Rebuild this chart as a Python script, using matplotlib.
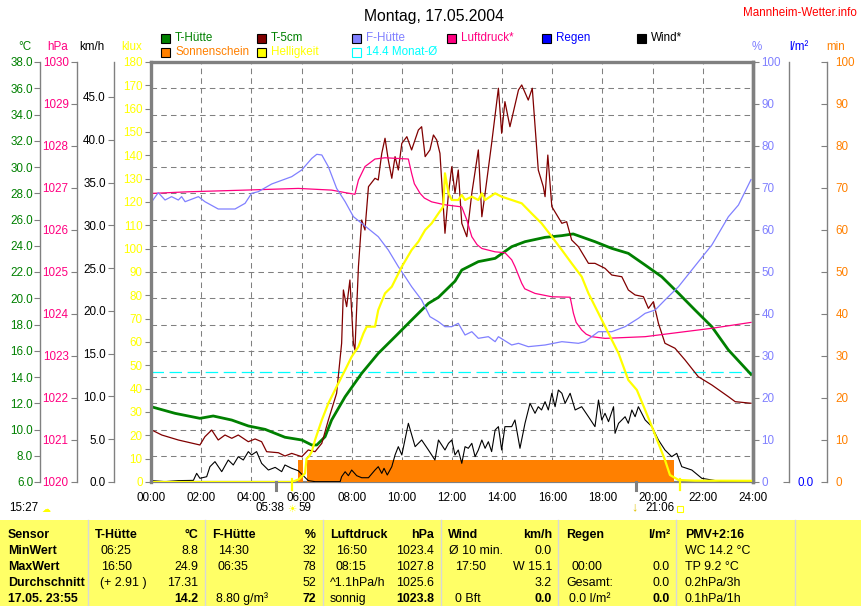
import matplotlib
matplotlib.use('Agg')
import matplotlib.pyplot as plt
from matplotlib.patches import Rectangle

plt.rcParams['font.family'] = ['Liberation Sans', 'DejaVu Sans']
plt.rcParams['lines.scale_dashes'] = False

# Messwerte vom 17.05.2004 (Stunden seit 00:00)
t_huette_h = [0.0, 0.96, 1.95, 2.48, 3.22, 3.88, 4.55, 5.34, 6.01, 6.41, 6.61, 6.94, 7.2, 7.74, 8.4,
              9.06, 9.73, 10.39, 11.06, 11.46, 12.12, 12.39, 13.05, 13.72, 14.38, 14.91, 15.71, 16.38,
              16.83, 17.7, 18.37, 19.03, 19.7, 20.36, 21.03, 21.69, 22.36, 23.02, 23.92]
t_huette_c = [11.74, 11.23, 10.85, 11.03, 10.72, 10.27, 10.01, 9.41, 9.2, 8.82, 8.82, 9.45, 10.72, 12.5,
              14.28, 15.8, 17.07, 18.34, 19.61, 20.07, 21.3, 22.15, 22.79, 23.04, 23.93, 24.31, 24.64,
              24.77, 24.9, 24.31, 23.8, 23.42, 22.53, 21.64, 20.38, 19.1, 17.83, 16.06, 14.2]

t5_h = [0.03, 0.43, 1.09, 1.95, 2.15, 2.42, 2.68, 2.95, 3.22, 3.48, 3.88, 4.15, 4.41, 4.61, 5.08, 5.34,
        5.61, 6.01, 6.27, 6.54, 6.81, 7.07, 7.4, 7.6, 7.67, 7.8, 7.93, 8.07, 8.13, 8.27, 8.4, 8.53, 8.67,
        8.93, 9.06, 9.2, 9.33, 9.46, 9.6, 9.73, 9.86, 10.0, 10.2, 10.39, 10.66, 10.79, 10.93, 11.12, 11.26,
        11.39, 11.52, 11.72, 11.86, 11.99, 12.12, 12.25, 12.39, 12.59, 12.79, 13.05, 13.19, 13.32, 13.58,
        13.85, 13.98, 14.11, 14.31, 14.65, 14.78, 15.04, 15.2, 15.44, 15.64, 15.71, 15.82, 15.98, 16.38,
        16.57, 16.77, 17.04, 17.44, 17.7, 18.1, 18.37, 18.77, 19.03, 19.3, 19.63, 19.83, 20.03, 20.23,
        20.49, 20.89, 21.29, 21.82, 22.36, 23.02, 23.29, 23.92]
t5_c = [9.96, 9.58, 9.2, 8.82, 9.45, 9.96, 9.2, 9.58, 9.33, 9.58, 9.07, 9.28, 9.07, 8.31, 8.23, 7.98,
        8.18, 7.93, 8.44, 8.31, 8.95, 10.72, 12.76, 16.57, 20.63, 19.36, 21.39, 16.57, 16.06, 22.41, 25.96,
        25.2, 28.5, 29.14, 29.01, 31.04, 32.19, 30.53, 29.14, 30.79, 29.77, 31.8, 32.31, 31.3, 32.82, 33.07,
        30.79, 31.3, 32.44, 32.06, 31.04, 24.95, 28.0, 30.02, 28.0, 29.77, 25.71, 24.69, 28.0, 31.3, 26.21,
        28.0, 31.8, 36.0, 32.57, 34.98, 33.07, 35.87, 36.25, 35.1, 36.0, 29.77, 28.5, 27.74, 30.91, 26.98,
        25.71, 25.83, 24.44, 23.93, 22.66, 22.66, 22.28, 21.77, 21.64, 20.63, 20.25, 20.12, 19.23, 19.74,
        18.09, 16.57, 16.19, 15.3, 14.02, 13.39, 12.5, 12.12, 12.0]

druck_h = [0.0, 1.49, 3.75, 5.87, 7.2, 7.74, 8.13, 8.27, 8.53, 8.93, 9.33, 10.26, 10.39, 10.5, 10.73,
           10.9, 11.19, 11.72, 12.39, 12.59, 12.79, 13.0, 13.19, 13.72, 14.11, 14.38, 14.51, 14.78, 14.9,
           15.31, 15.98, 16.71, 16.84, 16.95, 17.17, 17.35, 17.57, 18.1, 19.7, 21.03, 22.36, 23.92]
druck_hpa = [1026.87, 1026.91, 1026.95, 1026.99, 1026.95, 1026.89, 1026.85, 1027.19, 1027.51, 1027.69,
             1027.72, 1027.69, 1027.35, 1027.1, 1026.87, 1026.76, 1026.67, 1026.6, 1026.55, 1026.24,
             1025.84, 1025.65, 1025.56, 1025.48, 1025.46, 1025.29, 1025.13, 1024.73, 1024.6, 1024.49,
             1024.41, 1024.4, 1024.02, 1023.8, 1023.62, 1023.52, 1023.46, 1023.42, 1023.46, 1023.56,
             1023.66, 1023.8]

feuchte_h = [0.03, 0.29, 0.56, 0.82, 1.09, 1.22, 1.36, 1.89, 2.15, 2.68, 3.35, 3.75, 4.01, 4.28, 4.81,
             5.61, 6.01, 6.41, 6.61, 6.81, 7.07, 7.4, 7.74, 8.07, 8.4, 9.06, 9.46, 9.86, 10.13, 10.39,
             10.79, 11.12, 11.46, 11.72, 11.99, 12.25, 12.52, 12.79, 13.05, 13.45, 13.72, 13.85, 14.38,
             14.65, 15.04, 15.71, 16.38, 17.04, 17.3, 17.84, 18.37, 18.9, 19.43, 19.7, 20.1, 20.49, 21.03,
             21.56, 22.09, 22.36, 23.02, 23.42, 23.92]
feuchte_pct = [66.74, 68.89, 67.14, 67.94, 67.14, 67.94, 66.74, 67.94, 66.74, 65.0, 65.0, 66.35, 68.73,
               69.13, 70.95, 72.7, 74.29, 77.06, 78.02, 77.86, 75.08, 69.92, 66.74, 63.17, 61.59, 58.41,
               55.24, 51.27, 48.89, 46.51, 43.33, 39.37, 38.17, 36.98, 36.98, 37.78, 35.0, 35.79, 34.21,
               34.6, 33.41, 34.6, 32.62, 33.02, 32.22, 32.62, 33.41, 33.02, 33.41, 35.79, 35.79, 36.98,
               38.97, 40.16, 40.95, 43.33, 46.51, 50.48, 54.44, 56.43, 63.17, 65.95, 72.0]

hell_h = [0.0, 5.63, 5.9, 6.14, 6.2, 6.3, 6.41, 6.54, 6.81, 7.07, 7.4, 7.74, 8.0, 8.27, 8.47, 8.6, 8.93,
          9.06, 9.33, 9.6, 10.0, 10.39, 10.66, 10.93, 11.19, 11.46, 11.65, 11.72, 11.86, 11.99, 12.25,
          12.39, 12.52, 12.79, 13.05, 13.19, 13.32, 13.72, 13.98, 14.38, 14.78, 15.17, 15.57, 15.98,
          16.38, 16.77, 17.17, 17.44, 17.84, 18.24, 18.64, 19.03, 19.37, 19.7, 19.97, 20.23, 20.49,
          20.69, 21.03, 21.69, 23.92]
hell_klux = [0, 0, 1.2, 3.7, 10, 11, 13, 18, 26.57, 33.71, 40.86, 48, 53.71, 58, 63.71, 66.57, 66.57,
             73.71, 80.86, 83.71, 92.29, 99.43, 103, 108, 110.86, 115.14, 118, 132.29, 123.71, 120.86,
             120.86, 123, 120.86, 122.29, 120.86, 123.71, 120.86, 123.71, 122.29, 120.86, 119.43, 115.14,
             110.86, 105.14, 99.43, 93.71, 88, 80.86, 72.29, 63.71, 55.14, 43.71, 39.43, 30.86, 23.71,
             16.57, 9.43, 3.0, 0.86, 0.57, 0.5]

wind_h = [0.03, 0.56, 1.09, 1.69, 1.82, 1.95, 2.22, 2.35, 2.55, 2.82, 3.08, 3.28, 3.48, 3.68, 3.88, 4.01,
          4.21, 4.41, 4.68, 4.95, 5.21, 5.34, 5.61, 5.87, 6.27, 6.54, 7.54, 7.6, 7.74, 7.87, 8.0, 8.2, 8.4,
          8.67, 8.93, 9.06, 9.2, 9.29, 9.42, 9.6, 9.73, 9.86, 10.0, 10.26, 10.53, 10.79, 11.06, 11.32,
          11.46, 11.72, 11.86, 11.99, 12.12, 12.25, 12.39, 12.52, 12.65, 12.79, 12.92, 13.05, 13.19,
          13.32, 13.45, 13.58, 13.72, 13.85, 13.98, 14.11, 14.38, 14.51, 14.71, 14.91, 15.11, 15.31,
          15.44, 15.57, 15.71, 15.84, 15.98, 16.11, 16.24, 16.38, 16.51, 16.71, 16.91, 17.17, 17.44,
          17.7, 17.84, 17.97, 18.1, 18.24, 18.44, 18.5, 18.64, 18.9, 19.03, 19.17, 19.3, 19.43, 19.7,
          19.97, 20.23, 20.49, 20.76, 20.96, 21.16, 21.56, 21.96, 22.36, 22.76, 23.92]
wind_kmh = [0.16, 0.04, 0.16, 0.19, 1.01, 0.43, 0.62, 1.79, 2.38, 1.21, 2.57, 1.99, 2.96, 2.57, 3.55,
            3.16, 3.55, 2.18, 1.4, 1.71, 1.21, 1.99, 1.6, 1.32, 0.16, 0.04, 0.04, 0.62, 1.2, 0.74, 1.4,
            0.74, 0.5, 0.5, 1.4, 1.79, 1.01, 1.6, 0.82, 1.79, 3.16, 4.13, 3.16, 6.86, 4.13, 4.91, 3.74,
            2.57, 4.91, 3.74, 4.52, 4.91, 3.16, 3.74, 2.18, 4.13, 3.94, 4.52, 2.96, 3.74, 4.91, 3.94,
            4.71, 3.55, 6.08, 6.47, 3.74, 6.47, 6.47, 7.25, 3.94, 6.86, 9.2, 8.03, 8.8, 8.42, 9.39, 8.42,
            10.37, 8.8, 10.75, 10.37, 9.2, 10.37, 8.42, 8.8, 7.63, 6.47, 9.58, 7.25, 8.03, 7.05, 8.8,
            5.69, 6.86, 7.63, 6.86, 8.42, 7.63, 8.8, 7.25, 6.47, 4.91, 3.74, 2.96, 3.35, 1.79, 1.4, 0.43,
            0.23, 0.04, 0.04]

sonne_start = [5.87, 6.2]
sonne_ende = [6.05, 20.87]
sonne_min = [5.2, 5.2]

monat_mittel = 14.4
sonnenaufgang = 5.63
sonnenuntergang = 21.1
marken_h = [5.0, 19.33]

zeit_ticks = list(range(0, 25, 2))
zeit_labels = ['%02d:00' % h for h in zeit_ticks]

W, H = 862, 606
GRAU = '#808080'
GRUEN = '#008000'
DUNKELROT = '#800000'
PINK = '#FF0080'
LILA = '#8080FF'
GELB = '#FFFF00'
ORANGE = '#FF8000'
BLAU = '#0000FF'
CYAN = '#00FFFF'
FS = 8.4
FT = 8.9


def fx(x):
    return x / W


def fy(y):
    return 1 - y / H


def pt(px):
    return px * 72.0 / 100


fig = plt.figure(figsize=(W / 100, H / 100), dpi=100)
ax = fig.add_axes([fx(151), fy(482), (753 - 151) / W, (482 - 62) / H])

# Host-Achse: Temperatur
ax.set_xlim(0, 24)
ax.set_ylim(6, 38)
ax.set_xticks(zeit_ticks)
ax.set_xticklabels(zeit_labels)
ax.set_yticks(range(6, 39, 2))
ax.set_yticklabels(['%.1f' % v for v in range(6, 39, 2)])
ax.grid(True, color=GRAU, linestyle=(0, (4, 3)), linewidth=0.75)
ax.tick_params(axis='x', length=0, pad=7, labelsize=FS)
ax.tick_params(axis='y', direction='out', length=4, color=GRAU, labelcolor=GRUEN, labelsize=FS, pad=1)
ax.spines['left'].set_position(('outward', pt(111)))
ax.spines['left'].set_color(GRAU)
ax.spines['left'].set_linewidth(1.0)
ax.spines['top'].set_color(GRAU)
ax.spines['top'].set_linewidth(2.4)
ax.spines['right'].set_color(GRAU)
ax.spines['right'].set_linewidth(2.4)
ax.spines['bottom'].set_color(GRAU)
ax.spines['bottom'].set_linewidth(1.6)

ax.axhline(monat_mittel, color=CYAN, linewidth=0.9, dashes=(9, 4))
ax.plot(t_huette_h, t_huette_c, color=GRUEN, linewidth=2.0)
ax.plot(t5_h, t5_c, color=DUNKELROT, linewidth=0.9)


def neue_achse(seite, abstand, ylim, ticks, fmt, farbe, richtung, lw=1.0):
    a = ax.twinx()
    a.set_ylim(*ylim)
    for s in a.spines.values():
        s.set_visible(False)
    sp = a.spines[seite]
    sp.set_visible(True)
    sp.set_position(('outward', pt(abstand)))
    sp.set_color(GRAU)
    sp.set_linewidth(lw)
    if seite == 'left':
        a.yaxis.tick_left()
    else:
        a.yaxis.tick_right()
    a.set_yticks(ticks)
    a.set_yticklabels([fmt % v for v in ticks])
    a.tick_params(axis='y', direction=richtung, length=4, color=GRAU, labelcolor=farbe,
                  labelsize=FS, pad=2 if richtung == 'out' else 6)
    return a


ax_min = neue_achse('right', 74, (0, 100), list(range(0, 101, 10)), '%d', ORANGE, 'in')
ax_min.bar(sonne_start, sonne_min, width=[e - s for s, e in zip(sonne_start, sonne_ende)],
           align='edge', color=ORANGE, linewidth=0)

ax_hpa = neue_achse('left', 74, (1020, 1030), list(range(1020, 1031)), '%d', PINK, 'out')
ax_hpa.plot(druck_h, druck_hpa, color=PINK, linewidth=0.9)

ax_pct = neue_achse('right', 0, (0, 100), list(range(0, 101, 10)), '%d', LILA, 'out', lw=2.4)
ax_pct.plot(feuchte_h, feuchte_pct, color=LILA, linewidth=0.9)

ax_kmh = neue_achse('left', 37, (0, 49.09), [0, 5, 10, 15, 20, 25, 30, 35, 40, 45], '%.1f', 'black', 'out')
ax_kmh.plot(wind_h, wind_kmh, color='black', linewidth=0.8)

ax_klux = neue_achse('left', 0, (0, 180), list(range(0, 181, 10)), '%d', GELB, 'out', lw=2.4)
ax_klux.plot(hell_h, hell_klux, color=GELB, linewidth=1.6)
for t in (sonnenaufgang, sonnenuntergang):
    ax_klux.axvline(t, ymin=-0.02, ymax=0.006, color=GELB, linewidth=1.6, clip_on=False)
for t in marken_h:
    ax_klux.axvline(t, ymin=-0.019, ymax=0, color=GRAU, linewidth=2.2, clip_on=False)

ax_reg = neue_achse('right', 36, (0, 10), [0], '%.1f', BLAU, 'in')

# Achsenbeschriftungen oben
for x, txt, c in [(25, '°C', GRUEN), (58, 'hPa', PINK), (92, 'km/h', 'black'), (132, 'klux', GELB),
                  (757, '%', LILA), (799, 'l/m²', BLAU), (836, 'min', ORANGE)]:
    fig.text(fx(x), fy(47), txt, color=c, fontsize=FS, ha='center', va='center')

fig.text(fx(434), fy(16), 'Montag, 17.05.2004', fontsize=11.3, ha='center', va='center')
fig.text(fx(857), fy(13), 'Mannheim-Wetter.info', fontsize=FS, color='#FF0000', ha='right', va='center')

# Legende
legende = [(161, 38, GRUEN, 'T-Hütte', GRUEN), (257, 38, DUNKELROT, 'T-5cm', GRUEN),
           (352, 38, LILA, 'F-Hütte', LILA), (447, 38, PINK, 'Luftdruck*', PINK),
           (542, 38, BLAU, 'Regen', BLAU), (637, 38, 'black', 'Wind*', 'black'),
           (161, 52, ORANGE, 'Sonnenschein', ORANGE), (257, 52, GELB, 'Helligkeit', GELB)]
for x, y, fc, txt, tc in legende:
    fig.patches.append(Rectangle((fx(x), fy(y + 5)), 9 / W, 9 / H, transform=fig.transFigure,
                                 facecolor=fc, edgecolor='black', linewidth=0.8))
    fig.text(fx(x + 14), fy(y), txt, color=tc, fontsize=FS, ha='left', va='center')
fig.patches.append(Rectangle((fx(352), fy(57)), 9 / W, 9 / H, transform=fig.transFigure,
                             facecolor='none', edgecolor=CYAN, linewidth=0.8))
fig.text(fx(366), fy(52), '%.1f Monat-Ø' % monat_mittel, color=CYAN, fontsize=FS, ha='left', va='center')

# Sonnenzeiten unter der Zeitachse
fig.text(fx(9), fy(508), '15:27', fontsize=FS, ha='left', va='center')
fig.text(fx(46), fy(510), '☁', fontsize=6.5, color=GELB, ha='center', va='center')
fig.text(fx(285), fy(508), '05:38', fontsize=FS, ha='right', va='center')
fig.text(fx(292), fy(509), '☀', fontsize=7.5, color=GELB, ha='center', va='center')
fig.text(fx(298), fy(508), '59', fontsize=FS, ha='left', va='center')
fig.text(fx(634), fy(507), '↓', fontsize=9, color='#E0C000', fontweight='bold', ha='center', va='center')
fig.text(fx(645), fy(508), '21:06', fontsize=FS, ha='left', va='center')
fig.patches.append(Rectangle((fx(677), fy(512)), 6 / W, 6 / H, transform=fig.transFigure,
                             facecolor='none', edgecolor=GELB, linewidth=0.8))

# Tabelle
fig.patches.append(Rectangle((0, 0), 1, (H - 520) / H, transform=fig.transFigure,
                             facecolor='#FFFF66', edgecolor='none'))
spalten = [88, 205, 323, 441, 558, 676, 795]
for x in spalten:
    fig.add_artist(plt.Line2D([fx(x), fx(x)], [0, fy(520)], transform=fig.transFigure,
                              color='#D8D8D8', linewidth=1.0))

zeilen_y = [535, 551, 567, 583, 599]
kopf = ['Sensor', 'MinWert', 'MaxWert', 'Durchschnitt', '17.05. 23:55']
for y, txt in zip(zeilen_y, kopf):
    fig.text(fx(8), fy(y), txt, fontsize=FT, fontweight='bold', ha='left', va='center')

# (linker Rand, rechter Rand, Zeilen: Text links, Einzug, Text rechts, fett links, fett rechts)
tabelle = [
    (95, 198, [('T-Hütte', 0, '°C', True, True), ('06:25', 6, '8.8', False, False),
               ('16:50', 6, '24.9', False, False), ('(+ 2.91 )', 5, '17.31', False, False),
               ('', 0, '14.2', False, True)]),
    (212, 316, [('F-Hütte', 0, '%', True, True), ('14:30', 6, '32', False, False),
                ('06:35', 6, '78', False, False), ('', 0, '52', False, False),
                ('8.80 g/m³', 4, '72', False, True)]),
    (330, 434, [('Luftdruck', 0, 'hPa', True, True), ('16:50', 6, '1023.4', False, False),
                ('08:15', 6, '1027.8', False, False), ('^1.1hPa/h', 0, '1025.6', False, False),
                ('sonnig', 0, '1023.8', False, True)]),
    (448, 552, [('Wind', 0, 'km/h', True, True), ('Ø 10 min.', 1, '0.0', False, False),
                ('17:50', 7, 'W 15.1', False, False), ('', 0, '3.2', False, False),
                ('0 Bft', 7, '0.0', False, True)]),
    (566, 670, [('Regen', 0, 'l/m²', True, True), ('', 0, '', False, False),
                ('00:00', 6, '0.0', False, False), ('Gesamt:', 0, '0.0', False, False),
                ('0.0 l/m²', 3, '0.0', False, True)]),
]
for xl, xr, reihen in tabelle:
    for i, (links, einzug, rechts, fett_l, fett_r) in enumerate(reihen):
        fig.text(fx(xl + einzug), fy(zeilen_y[i]), links, fontsize=FT,
                 fontweight='bold' if fett_l else 'normal', ha='left', va='center')
        fig.text(fx(xr), fy(zeilen_y[i]), rechts, fontsize=FT,
                 fontweight='bold' if fett_r else 'normal', ha='right', va='center')

pmv = [('PMV+2:16', True), ('WC 14.2 °C', False), ('TP 9.2 °C', False),
       ('0.2hPa/3h', False), ('0.1hPa/1h', False)]
for y, (txt, fett) in zip(zeilen_y, pmv):
    fig.text(fx(685), fy(y), txt, fontsize=FT, fontweight='bold' if fett else 'normal',
             ha='left', va='center')

fig.savefig('out.png', dpi=100)
